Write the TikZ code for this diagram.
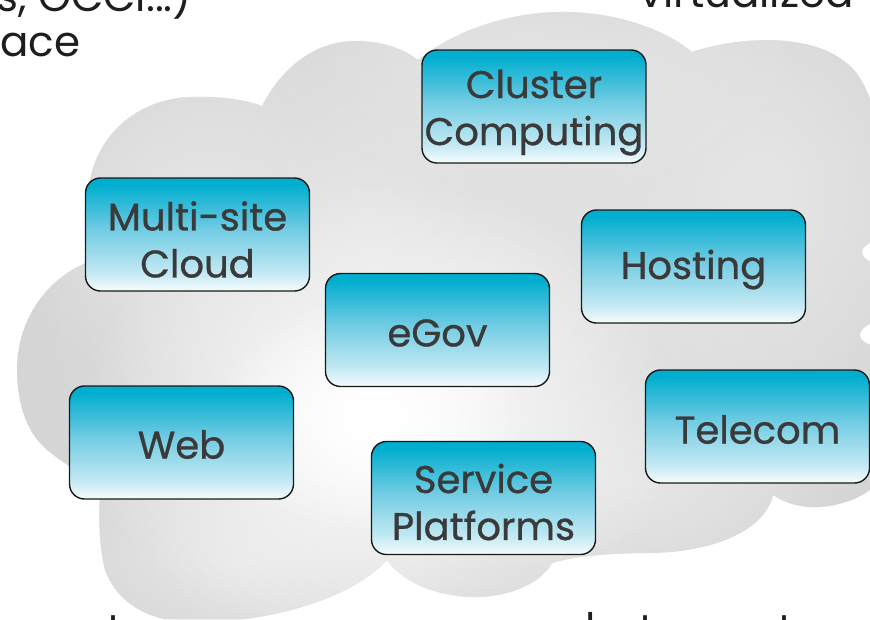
\documentclass[tikz,border=0pt]{standalone}
\usepackage{fontspec}
\usetikzlibrary{fadings}
\newfontfamily\popfont[FakeBold=0.8]{Poppins}
\newfontfamily\popthin{Poppins}
\definecolor{boxtop}{HTML}{00AECF}
\definecolor{boxmid}{HTML}{72CCE3}
\definecolor{boxlow}{HTML}{C4E9F3}
\definecolor{boxbot}{HTML}{F6FCFE}
\definecolor{labelgray}{HTML}{3A3A3A}
\definecolor{toptext}{HTML}{1E1E1E}
\definecolor{cloudbase}{HTML}{D3D3D3}
\definecolor{cloudlight}{HTML}{E6E6E6}
\pgfdeclareverticalshading{boxgrad}{100bp}{color(0bp)=(boxbot); color(25bp)=(boxbot); color(33bp)=(boxlow); color(52bp)=(boxmid); color(72bp)=(boxtop); color(100bp)=(boxtop)}
\tikzfading[name=softblob, inner color=transparent!0, outer color=transparent!100]
\tikzset{
  appbox/.style={draw=black!90, line width=1.4pt, rounded corners=15pt,
    minimum width=224pt, minimum height=113pt, inner sep=0pt,
    shade, shading=boxgrad},
  boxlabel/.style={inner sep=0pt, text=labelgray, align=center,
    font=\popfont\fontsize{38.5}{47}\selectfont},
  cuttext/.style={inner sep=0pt, text=toptext, font=\popthin\fontsize{42}{44}\selectfont},
  blob/.style={path fading=softblob}
}
\begin{document}
\begin{tikzpicture}[x=1pt, y=-1pt]
\useasboundingbox (0,0) rectangle (870,619);
\clip (0,0) rectangle (870,619);
\fill[white] (0,0) rectangle (870,619);
% cloud
\begin{scope}
\clip (17,370) .. controls (17,318) and (48,278) .. (88,262)
 -- (88,205) .. controls (86,150) and (125,100) .. (190,97) .. controls (222,96) and (246,100) .. (262,106)
 .. controls (285,62) and (320,41) .. (355,41) .. controls (385,41) and (405,50) .. (418,60)
 .. controls (458,28) and (515,11) .. (567,12) .. controls (620,13) and (665,30) .. (692,52)
 .. controls (740,36) and (825,30) .. (858,75) .. controls (868,90) and (874,108) .. (878,125)
 -- (885,125) -- (885,238) .. controls (872,240) and (862,246) .. (862,252) .. controls (862,259) and (872,264) .. (885,266)
 -- (885,320) .. controls (870,322) and (860,328) .. (860,335) .. controls (860,342) and (870,346) .. (885,348)
 -- (885,470) .. controls (880,490) and (850,505) .. (820,507) .. controls (800,508) and (785,503) .. (773,495)
 .. controls (765,530) and (715,552) .. (650,553) .. controls (610,553) and (575,556) .. (552,563)
 .. controls (540,585) and (505,598) .. (472,597) .. controls (440,596) and (405,585) .. (387,560)
 .. controls (360,590) and (300,615) .. (220,622) .. controls (160,627) and (120,610) .. (105,570)
 .. controls (100,550) and (98,520) .. (100,495)
 .. controls (80,470) and (60,462) .. (45,448) .. controls (25,430) and (17,400) .. (17,370) -- cycle;
\fill[cloudbase] (0,0) rectangle (870,619);
\fill[cloudlight, blob] (470,300) ellipse [x radius=520, y radius=420];
\fill[cloudlight, blob] (200,215) ellipse [x radius=190, y radius=190];
\fill[cloudlight, blob] (370,230) ellipse [x radius=120, y radius=140];
\fill[cloudlight, blob] (760,190) ellipse [x radius=220, y radius=260];
\fill[cloudlight, blob] (540,80) ellipse [x radius=280, y radius=130];
\fill[cloudlight, blob] (240,560) ellipse [x radius=240, y radius=120];
\fill[cloudlight, blob] (640,480) ellipse [x radius=200, y radius=120];
\fill[white, blob] (380,420) ellipse [x radius=300, y radius=240];
\fill[white, blob] (370,415) ellipse [x radius=160, y radius=120];
\end{scope}
% boxes
\node[appbox] (cluster) at (534,106.5) {};
\node[appbox] (multisite) at (197.5,234.5) {};
\node[appbox] (hosting) at (693.5,266.5) {};
\node[appbox] (egov) at (437.5,330) {};
\node[appbox] (web) at (181.5,442.5) {};
\node[appbox] (telecom) at (757.5,426.5) {};
\node[appbox] (service) at (483.5,498) {};
\node[boxlabel] (clusterlbl) at ([yshift=-6pt]cluster.center) {Cluster\\Computing};
\node[boxlabel] (multisitelbl) at ([yshift=-5pt]multisite.center) {Multi-site\\Cloud};
\node[boxlabel] (hostinglbl) at ([yshift=-3pt]hosting.center) {Hosting};
\node[boxlabel] (egovlbl) at ([yshift=-3pt]egov.center) {eGov};
\node[boxlabel] (weblbl) at ([yshift=-2pt]web.center) {Web};
\node[boxlabel] (telecomlbl) at ([yshift=-3pt]telecom.center) {Telecom};
\node[boxlabel] (servicelbl) at ([yshift=-4pt]service.center) {Service\\Platforms};
% cut-off texts
\node[cuttext, anchor=base east] (t1) at (192,11) {s, OCCI...)};
\node[cuttext, anchor=base west] (t2) at (0,56) {ace};
\node[cuttext, anchor=base east] (t3) at (854,7) {virtualized};
\node[cuttext, anchor=base] (b1) at (115,644) {t};
\node[cuttext, anchor=base] (b2) at (591,643) {l};
\node[cuttext, anchor=base] (b3) at (647,644) {t};
\node[cuttext, anchor=base] (b4) at (786,644) {t};
\end{tikzpicture}
\end{document}
